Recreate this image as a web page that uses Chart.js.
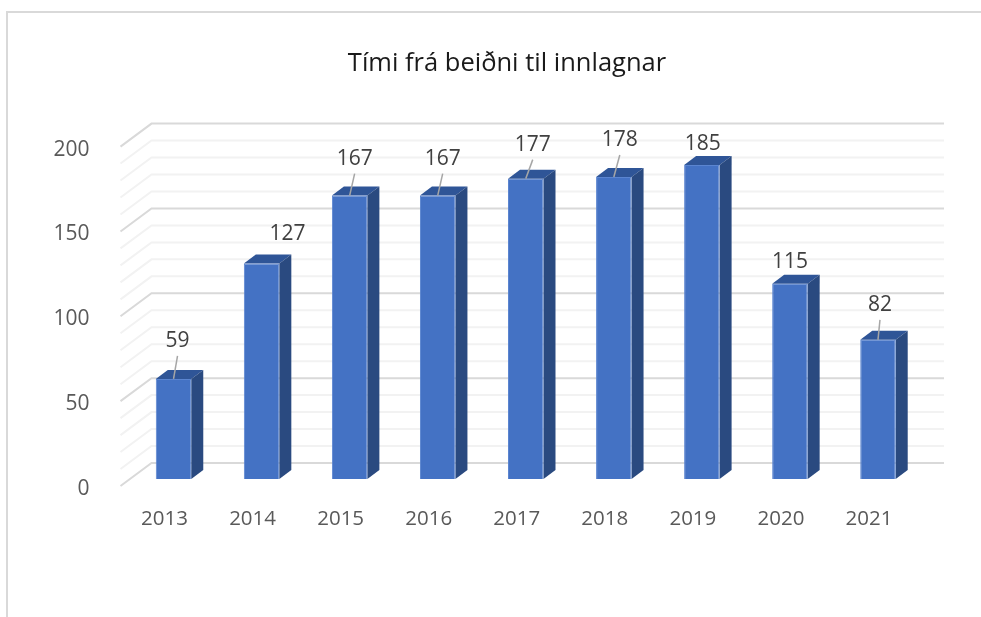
<!DOCTYPE html>
<html><head><meta charset="utf-8">
<style>html,body{margin:0;padding:0;background:#fff;overflow:hidden}
#frame{position:absolute;left:6px;top:11px;width:975px;height:606px;border-left:2px solid #d9d9d9;border-top:2px solid #d9d9d9;box-sizing:border-box}
#wrap{position:absolute;left:0;top:0;width:981px;height:617px}</style>
<script src="https://cdn.jsdelivr.net/npm/chart.js@4/dist/chart.umd.min.js"></script>
</head><body>
<div id="frame"></div>
<div id="wrap"><canvas id="c" width="981" height="617"></canvas></div>
<script>
const years = ['2013','2014','2015','2016','2017','2018','2019','2020','2021'];
const values = [59,127,167,167,177,178,185,115,82];
const titleText = 'Tími frá beiðni til innlagnar';
const labelDx = [4,26,5,5,7,6,1,0,2];
const labelDy = [-40,-31,-39,-39,-36,-39,-23,-24,-37];
const hasLeader = [true,false,true,true,true,true,false,false,true];
const FONT = '"Open Sans", sans-serif';
const depth = {backX:31, backY:23, barX:9, barY:7, sideX:12, sideY:9};

const plugin3d = {
  id:'plugin3d',
  beforeDatasetsDraw(chart){
    const {ctx, chartArea:a, scales:{y}} = chart;
    ctx.save();
    y.ticks.forEach(t=>{
      const p = y.getPixelForValue(t.value);
      const major = t.value % 50 === 0;
      ctx.strokeStyle = major ? '#d9d9d9' : '#f2f2f2';
      ctx.lineWidth = 2;
      ctx.beginPath();
      ctx.moveTo(a.left,p);
      ctx.lineTo(a.left+depth.backX,p-depth.backY);
      ctx.lineTo(a.right+depth.backX,p-depth.backY);
      ctx.stroke();
    });
    ctx.restore();
  },
  beforeDatasetDraw(chart){
    chart.ctx.save();
    chart.ctx.translate(depth.barX,-depth.barY);
    const {ctx} = chart;
    chart.getDatasetMeta(0).data.forEach(b=>{
      const l=b.x-b.width/2, r=b.x+b.width/2, t=b.y, bt=b.base;
      ctx.fillStyle='#2f5597';
      ctx.beginPath();
      ctx.moveTo(l,t);ctx.lineTo(l+depth.sideX,t-depth.sideY);ctx.lineTo(r+depth.sideX,t-depth.sideY);ctx.lineTo(r,t);ctx.closePath();ctx.fill();
      ctx.fillStyle='#2a4a80';
      ctx.beginPath();
      ctx.moveTo(r,t);ctx.lineTo(r+depth.sideX,t-depth.sideY);ctx.lineTo(r+depth.sideX,bt-depth.sideY);ctx.lineTo(r,bt);ctx.closePath();ctx.fill();
    });
  },
  afterDatasetDraw(chart){
    const {ctx} = chart;
    ctx.restore();
    ctx.save();
    chart.getDatasetMeta(0).data.forEach((b,i)=>{
      const cx=b.x+depth.barX, top=b.y-depth.barY;
      const lx=cx+labelDx[i], ly=top+labelDy[i];
      if(hasLeader[i]){
        ctx.strokeStyle='#a6a6a6';ctx.lineWidth=1.5;
        ctx.beginPath();ctx.moveTo(lx,ly+17);ctx.lineTo(cx,top);ctx.stroke();
      }
      ctx.fillStyle='#404040';ctx.font='21px '+FONT;ctx.textAlign='center';ctx.textBaseline='middle';
      ctx.fillText(String(values[i]),lx,ly+2);
    });
    ctx.restore();
  },
  afterDatasetsDraw(chart){
    chart.ctx.save();
    chart.ctx.translate(0,3);
  },
  afterDraw(chart){
    chart.ctx.restore();
  }
};

new Chart(document.getElementById('c'),{
  type:'bar',
  data:{labels:years,datasets:[{data:values,backgroundColor:'#4472c4',borderColor:'#5b85d0',borderWidth:1,barPercentage:0.403,categoryPercentage:1,clip:false}]},
  options:{
    responsive:false,animation:false,
    layout:{padding:{left:33}},
    plugins:{legend:{display:false},tooltip:{enabled:false},
      title:{display:true,text:titleText,color:'#1a1a1a',font:{family:FONT,size:25.5,weight:'normal'},padding:{top:48,bottom:68}}},
    scales:{
      x:{grid:{display:false},border:{display:false},
        ticks:{color:'#595959',font:{family:FONT,size:20.5},padding:13,maxRotation:0},
        afterFit(s){s.height=131;}},
      y:{min:0,max:200,grid:{display:false},border:{display:false},
        ticks:{z:1,stepSize:10,autoSkip:false,color:'#595959',font:{family:FONT,size:21},padding:23,
          callback:v=>v%50===0?String(v):''},
        afterFit(s){s.width=87.5;}},
      rightGap:{axis:'y',position:'right',grid:{display:false},border:{display:false},ticks:{display:false},
        afterFit(s){s.width=68;}}
    }
  },
  plugins:[plugin3d]
});
</script>
</body></html>
